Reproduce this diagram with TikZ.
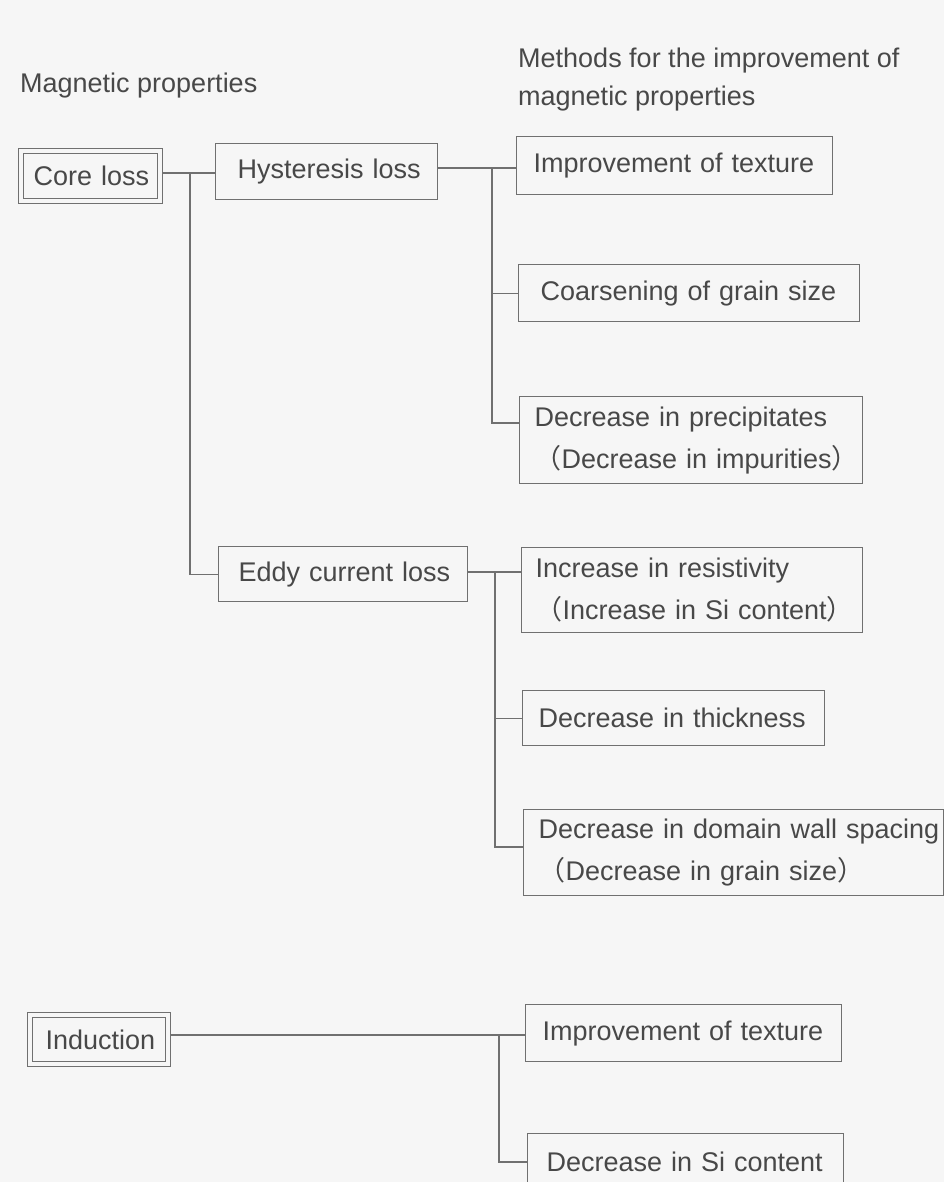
\documentclass[tikz,border=0pt]{standalone}
\usepackage{fontspec}
\setmainfont{Liberation Sans}
\newfontfamily\cjkfont{Noto Sans CJK JP}
\newcommand\fwlp{{\cjkfont （}}
\newcommand\fwrp{{\cjkfont ）}}
\definecolor{bgc}{RGB}{246,246,246}
\definecolor{inkc}{RGB}{72,72,72}
\definecolor{linec}{RGB}{112,112,112}
\begin{document}
\begin{tikzpicture}[x=1pt,y=-1pt,
  box/.style={draw=linec, line width=1.3pt, text=inkc, anchor=north west,
    inner ysep=0pt, align=left, font=\fontsize{27}{42}\selectfont},
  dbox/.style={box, path picture={\draw[linec, line width=1.2pt]
    ([shift={(5pt,-5pt)}]path picture bounding box.north west) rectangle
    ([shift={(-5pt,5pt)}]path picture bounding box.south east);}},
  conn/.style={draw=linec, line width=1.3pt},
  title/.style={text=inkc, anchor=west, inner sep=0pt, align=left,
    font=\fontsize{27}{38}\selectfont}]
\fill[bgc] (0,0) rectangle (944,1182);
\useasboundingbox (0,0) rectangle (944,1182);
\clip (0,0) rectangle (944,1182);

% titles
\node[title] (t1) at (20,86) {Magnetic properties};
\node[title] (t2) at (518,80) {Methods for the improvement of\\magnetic properties};

% left column
\node[dbox, text width=114pt, inner xsep=15pt, minimum height=55pt] (core) at (18,148) {\mbox{Core loss}};
\node[box, text width=178pt, inner xsep=22pt, minimum height=56pt] (hyst) at (215,143) {\mbox{Hysteresis loss}};
\node[box, text width=209pt, inner xsep=20pt, minimum height=55pt] (eddy) at (218,546) {\mbox{Eddy current loss}};
\node[dbox, text width=107pt, inner xsep=18pt, minimum height=54pt] (induct) at (27,1012) {\mbox{Induction}};

% right column
\node[box, text width=282pt, inner xsep=17pt, minimum height=58pt] (imp1) at (516,136) {\mbox{Improvement of texture}};
\node[box, text width=297pt, inner xsep=22pt, minimum height=57pt] (coarse) at (518,264) {\mbox{Coarsening of grain size}};
\node[box, text width=313pt, inner xsep=15pt, minimum height=87pt] (precip) at (519,396) {\mbox{Decrease in precipitates}\\\mbox{\fwlp Decrease in impurities\fwrp}};
\node[box, text width=313pt, inner xsep=14pt, minimum height=85pt] (resist) at (521,547) {\mbox{Increase in resistivity}\\\mbox{\fwlp Increase in Si content\fwrp}};
\node[box, text width=270pt, inner xsep=16pt, minimum height=55pt] (thick) at (522,690) {\mbox{Decrease in thickness}};
\node[box, text width=390pt, inner xsep=15pt, minimum height=86pt] (domain) at (523,809) {\mbox{Decrease in domain wall spacing}\\\mbox{\fwlp Decrease in grain size\fwrp}};
\node[box, text width=282pt, inner xsep=17pt, minimum height=57pt] (imp2) at (525,1004) {\mbox{Improvement of texture}};
\node[box, text width=278pt, inner xsep=19pt, minimum height=57pt] (si) at (527,1133) {\mbox{Decrease in Si content}};

% connectors: core loss
\coordinate (j1) at (190,173);
\draw[conn] (core.east |- j1) -- (hyst.west |- j1);
\draw[conn] (j1) |- (eddy.west);

% hysteresis loss
\coordinate (j2) at (492,168);
\coordinate (j2b) at (492,423);
\draw[conn] (hyst.east |- j2) -- (imp1.west |- j2);
\draw[conn] (j2 |- coarse.west) -- (coarse.west);
\draw[conn] (j2) -- (j2b) -- (precip.west |- j2b);

% eddy current loss
\coordinate (j3) at (495,572);
\coordinate (j3b) at (495,847);
\draw[conn] (eddy.east |- j3) -- (resist.west |- j3);
\draw[conn] (j3 |- thick.west) -- (thick.west);
\draw[conn] (j3) -- (j3b) -- (domain.west |- j3b);

% induction
\coordinate (j4) at (499,1035);
\coordinate (j4b) at (499,1162);
\draw[conn] (induct.east |- j4) -- (imp2.west |- j4);
\draw[conn] (j4) -- (j4b) -- (si.west |- j4b);
\end{tikzpicture}
\end{document}
